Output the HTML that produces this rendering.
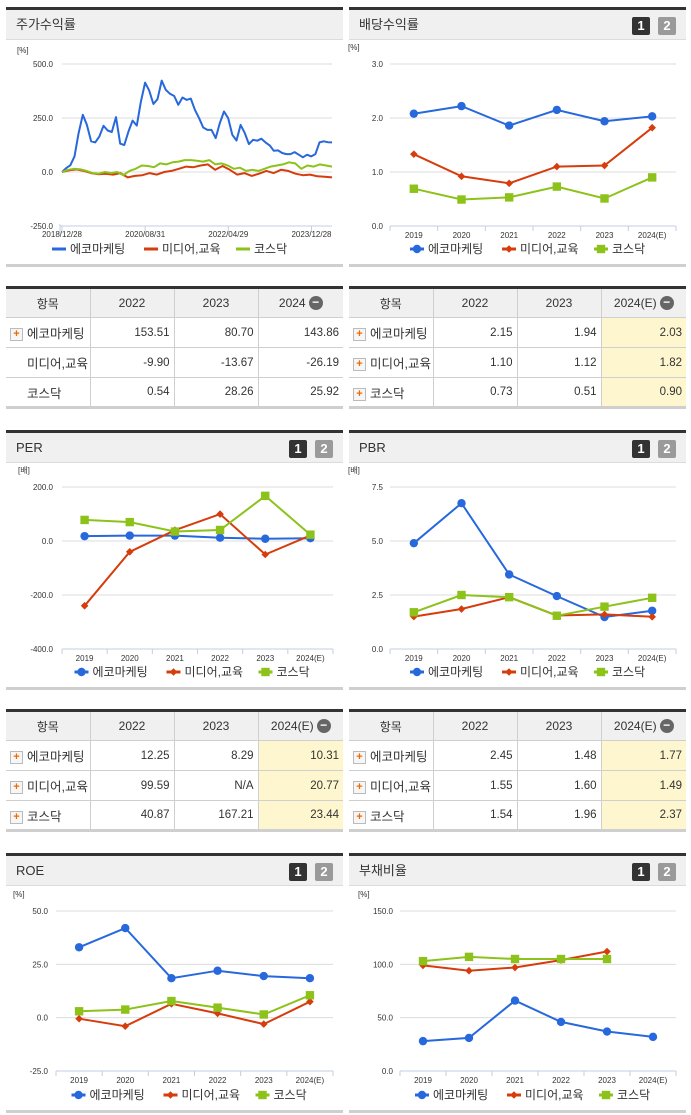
<!DOCTYPE html>
<html><head><meta charset="utf-8">
<style>
body{margin:0;width:691px;height:1115px;background:#fff;position:relative;overflow:hidden;font-family:"Liberation Sans","Noto Sans CJK KR",sans-serif;}
.abs{position:absolute}
.ptop{position:absolute;height:3px;background:#333}
.phead{position:absolute;height:30px;background:#f0f0f0;border-bottom:1px solid #dcdcdc;font-size:13px;color:#333;line-height:30px;padding-left:10px;box-sizing:border-box}
.pbot{position:absolute;height:3px;background:#cfcfcf}
.badge{position:absolute;top:7px;width:18px;height:18px;border-radius:2px;color:#fff;font-weight:bold;font-size:13px;line-height:18px;text-align:center}
.b1{right:36px;background:#333}.b2{right:10px;background:#9a9a9a}
table{position:absolute;border-collapse:collapse;table-layout:fixed;font-size:11.5px;color:#333;border-top:3px solid #333;border-bottom:3px solid #cfcfcf}
td,th{border:1px solid #cfcfcf;height:30px;padding:0 4px;box-sizing:border-box}
th{background:#f0f0f0;font-weight:normal;font-size:12px}
tr td:first-child{font-size:12.5px;white-space:nowrap}
tr td:first-child,tr th:first-child{border-left:none}
tr td:last-child,tr th:last-child{border-right:none}
td.n{text-align:right;color:#333}
td.hl{background:#fdf6cf}
.plus{display:inline-block;width:11px;height:11px;border:1px solid #bbb;background:#f6f6f6;color:#f06a00;font-size:11px;line-height:10px;text-align:center;font-weight:bold;vertical-align:middle;margin-right:4px}
.minus{display:inline-block;width:14px;height:14px;border-radius:50%;background:#666;color:#fff;font-size:12px;line-height:13px;text-align:center;vertical-align:middle;margin-left:3px;font-weight:bold}
</style></head>
<body>
<svg id="charts" width="691" height="1115" style="position:absolute;left:0;top:0"></svg>

<div class="ptop" style="left:6px;top:7px;width:337px"></div>
<div class="phead" style="left:6px;top:10px;width:337px">주가수익률</div>
<div class="pbot" style="left:6px;top:264px;width:337px"></div>

<div class="ptop" style="left:349px;top:7px;width:337px"></div>
<div class="phead" style="left:349px;top:10px;width:337px">배당수익률<span class="badge b1">1</span><span class="badge b2">2</span></div>
<div class="pbot" style="left:349px;top:264px;width:337px"></div>

<div class="ptop" style="left:6px;top:430px;width:337px"></div>
<div class="phead" style="left:6px;top:433px;width:337px">PER<span class="badge b1">1</span><span class="badge b2">2</span></div>
<div class="pbot" style="left:6px;top:687px;width:337px"></div>

<div class="ptop" style="left:349px;top:430px;width:337px"></div>
<div class="phead" style="left:349px;top:433px;width:337px">PBR<span class="badge b1">1</span><span class="badge b2">2</span></div>
<div class="pbot" style="left:349px;top:687px;width:337px"></div>

<div class="ptop" style="left:6px;top:853px;width:337px"></div>
<div class="phead" style="left:6px;top:856px;width:337px">ROE<span class="badge b1">1</span><span class="badge b2">2</span></div>
<div class="pbot" style="left:6px;top:1110px;width:337px"></div>

<div class="ptop" style="left:349px;top:853px;width:337px"></div>
<div class="phead" style="left:349px;top:856px;width:337px">부채비율<span class="badge b1">1</span><span class="badge b2">2</span></div>
<div class="pbot" style="left:349px;top:1110px;width:337px"></div>

<table style="left:6px;top:286px;width:337px">
<colgroup><col style="width:84px"><col style="width:84px"><col style="width:84px"><col style="width:85px"></colgroup>
<tr><th>항목</th><th>2022</th><th>2023</th><th>2024<span class="minus">−</span></th></tr>
<tr><td><span class="plus">+</span>에코마케팅</td><td class="n">153.51</td><td class="n">80.70</td><td class="n">143.86</td></tr>
<tr><td><span style="display:inline-block;width:17px"></span>미디어,교육</td><td class="n">-9.90</td><td class="n">-13.67</td><td class="n">-26.19</td></tr>
<tr><td><span style="display:inline-block;width:17px"></span>코스닥</td><td class="n">0.54</td><td class="n">28.26</td><td class="n">25.92</td></tr>
</table>

<table style="left:349px;top:286px;width:337px">
<colgroup><col style="width:84px"><col style="width:84px"><col style="width:84px"><col style="width:85px"></colgroup>
<tr><th>항목</th><th>2022</th><th>2023</th><th>2024(E)<span class="minus">−</span></th></tr>
<tr><td><span class="plus">+</span>에코마케팅</td><td class="n">2.15</td><td class="n">1.94</td><td class="n hl">2.03</td></tr>
<tr><td><span class="plus">+</span>미디어,교육</td><td class="n">1.10</td><td class="n">1.12</td><td class="n hl">1.82</td></tr>
<tr><td><span class="plus">+</span>코스닥</td><td class="n">0.73</td><td class="n">0.51</td><td class="n hl">0.90</td></tr>
</table>

<table style="left:6px;top:709px;width:337px">
<colgroup><col style="width:84px"><col style="width:84px"><col style="width:84px"><col style="width:85px"></colgroup>
<tr><th>항목</th><th>2022</th><th>2023</th><th>2024(E)<span class="minus">−</span></th></tr>
<tr><td><span class="plus">+</span>에코마케팅</td><td class="n">12.25</td><td class="n">8.29</td><td class="n hl">10.31</td></tr>
<tr><td><span class="plus">+</span>미디어,교육</td><td class="n">99.59</td><td class="n">N/A</td><td class="n hl">20.77</td></tr>
<tr><td><span class="plus">+</span>코스닥</td><td class="n">40.87</td><td class="n">167.21</td><td class="n hl">23.44</td></tr>
</table>

<table style="left:349px;top:709px;width:337px">
<colgroup><col style="width:84px"><col style="width:84px"><col style="width:84px"><col style="width:85px"></colgroup>
<tr><th>항목</th><th>2022</th><th>2023</th><th>2024(E)<span class="minus">−</span></th></tr>
<tr><td><span class="plus">+</span>에코마케팅</td><td class="n">2.45</td><td class="n">1.48</td><td class="n hl">1.77</td></tr>
<tr><td><span class="plus">+</span>미디어,교육</td><td class="n">1.55</td><td class="n">1.60</td><td class="n hl">1.49</td></tr>
<tr><td><span class="plus">+</span>코스닥</td><td class="n">1.54</td><td class="n">1.96</td><td class="n hl">2.37</td></tr>
</table>

<script>
const years = ["2019","2020","2021","2022","2023","2024(E)"];
const seriesNames = ["에코마케팅","미디어,교육","코스닥"];
const stockDateLabels = ["2018/12/28","2020/08/31","2022/04/29","2023/12/28"];
const stockTicks = [500,250,0,-250];
const stockEco = [0,18,31,72,180,265,218,142,137,165,214,192,185,254,131,125,188,238,215,326,414,377,315,337,423,380,362,352,311,345,334,340,288,249,206,195,195,157,226,280,249,172,146,218,180,129,149,145,154,137,123,98,100,88,83,83,92,80,68,80,72,83,137,142,138,137];
const stockMedia = [0,8,12,5,-5,-10,-8,-12,-5,-25,-18,-15,-5,-12,0,5,15,25,22,30,35,10,28,10,-12,-5,-18,-8,5,-5,10,5,-8,-15,-12,-20,-22,-25];
const stockKosdaq = [0,10,15,12,5,-5,-8,0,-5,0,-15,5,15,30,28,22,40,35,45,48,55,55,52,48,55,35,40,30,15,20,5,10,5,15,25,30,35,45,40,15,30,25,35,30,25];
const divTicks = [3,2,1,0];
const divEco = [2.08,2.22,1.86,2.15,1.94,2.03];
const divMedia = [1.33,0.92,0.79,1.10,1.12,1.82];
const divKosdaq = [0.69,0.49,0.53,0.73,0.51,0.90];
const perTicks = [200,0,-200,-400];
const perEco = [18,20,20,12.25,8.29,10.31];
const perMedia = [-240,-40,40,99.59,-50,20.77];
const perKosdaq = [78,70,35,40.87,167.21,23.44];
const pbrTicks = [7.5,5,2.5,0];
const pbrEco = [4.9,6.75,3.45,2.45,1.48,1.77];
const pbrMedia = [1.5,1.85,2.4,1.55,1.60,1.49];
const pbrKosdaq = [1.7,2.5,2.4,1.54,1.96,2.37];
const roeTicks = [50,25,0,-25];
const roeEco = [33,42,18.5,22,19.5,18.5];
const roeMedia = [-0.5,-4,6.5,2,-3,7.5];
const roeKosdaq = [3,3.8,7.8,4.7,1.5,10.5];
const debtTicks = [150,100,50,0];
const debtEco = [28,31,66,46,37,32];
const debtMedia = [99,94,97,104,112,null];
const debtKosdaq = [103,107,105,105,105,null];

const colors = ["#2768dc","#d63c0c","#8cc21a"];
const NS="http://www.w3.org/2000/svg";
const svg=document.getElementById('charts');
function el(tag,attrs,parent){const e=document.createElementNS(NS,tag);for(const k in attrs)e.setAttribute(k,attrs[k]);(parent||svg).appendChild(e);return e;}
function txt(x,y,s,size,anchor,parent){const t=el('text',{x:x,y:y,'font-size':size,'text-anchor':anchor||'start',fill:'#333','font-family':'"Liberation Sans","Noto Sans CJK KR",sans-serif'},parent);t.textContent=s;return t;}

function marker(g,i,x,y){
  let m;
  if(i===0){m=el('circle',{cx:x,cy:y,r:4.2,fill:colors[0]},g);}
  else if(i===1){m=el('path',{d:`M${x} ${y-3.8}L${x+3.8} ${y}L${x} ${y+3.8}L${x-3.8} ${y}Z`,fill:colors[1]},g);}
  else {m=el('rect',{x:x-4.2,y:y-4.2,width:8.4,height:8.4,fill:colors[2]},g);}
  return m;
}

function legend(cx,y,withMarkers,g){
  const widths=[92,92,62];const total=widths.reduce((a,b)=>a+b,0);
  let x=cx-total/2;
  seriesNames.forEach((n,i)=>{
    const lg=el('g',{},g);
    
    
    el('line',{x1:x,y1:y-4,x2:x+14,y2:y-4,stroke:colors[i],'stroke-width':3},lg);
    if(withMarkers)marker(lg,i,x+7,y-4);
    txt(x+18,y,n,12,'start',lg);
    x+=widths[i];
  });
}

function catChart(name,L,R,yTop,yBot,ticks,unit,labelRight,data,legendY){
  const g=el('g',{});
  
  
  const ymax=ticks[0],ymin=ticks[ticks.length-1];
  const Y=v=>yTop+(ymax-v)/(ymax-ymin)*(yBot-yTop);
  const bw=(R-L)/years.length;
  const X=i=>L+bw*(i+0.5);
  txt(labelRight-35,yTop-14,unit,8,'start',g);
  ticks.forEach(t=>{
    if(t!==ymin)el('line',{x1:L,y1:Y(t),x2:R,y2:Y(t),stroke:'#dcdcdc','stroke-width':1},g);
    txt(labelRight,Y(t)+3,t.toFixed(1),8,'end',g);
  });
  el('line',{x1:L,y1:yBot,x2:R,y2:yBot,stroke:'#c5cde0','stroke-width':1},g);
  for(let i=0;i<=years.length;i++)el('line',{x1:L+bw*i,y1:yBot,x2:L+bw*i,y2:yBot+5,stroke:'#c5cde0'},g);
  years.forEach((yr,i)=>txt(X(i),yBot+12,yr,8,'middle',g));
  data.forEach((arr,si)=>{
    const sg=el('g',{},g);
    
    
    let d='';let pen=false;
    arr.forEach((v,i)=>{if(v===null){pen=false;return;}d+=(pen?'L':'M')+X(i).toFixed(1)+' '+Y(v).toFixed(1);pen=true;});
    el('path',{d:d,fill:'none',stroke:colors[si],'stroke-width':2},sg);
    arr.forEach((v,i)=>{if(v===null)return;const m=marker(sg,si,X(i),Y(v));
      
      });
  });
  legend((L+R)/2,legendY,true,g);
}

(function(){
  const g=el('g',{});
  
  
  const L=62,R=332,yTop=64,yBot=226;
  const ymax=stockTicks[0],ymin=stockTicks[stockTicks.length-1];
  const Y=v=>yTop+(ymax-v)/(ymax-ymin)*(yBot-yTop);
  txt(17,53,'[%]',8,'start',g);
  stockTicks.forEach(t=>{
    if(t!==ymin)el('line',{x1:L,y1:Y(t),x2:R,y2:Y(t),stroke:'#dcdcdc'},g);
    txt(53,Y(t)+3,t.toFixed(1),8,'end',g);
  });
  el('line',{x1:L-2,y1:yBot,x2:R,y2:yBot,stroke:'#c5cde0'},g);
  el('line',{x1:L-2,y1:yBot-2,x2:L-2,y2:yBot+8,stroke:'#c5cde0'},g);
  const span=R-L;
  stockDateLabels.forEach((s,i)=>{
    const x=L+span*i/3*0.924;
    el('line',{x1:x,y1:yBot,x2:x,y2:yBot+6,stroke:'#c5cde0'},g);
    txt(x,yBot+11,s,8,'middle',g);
  });
  [stockEco,stockMedia,stockKosdaq].forEach((arr,si)=>{
    const n=arr.length;
    const d=arr.map((v,i)=>(i?'L':'M')+(L+span*i/(n-1)).toFixed(1)+' '+Y(v).toFixed(1)).join('');
    const p=el('path',{d:d,fill:'none',stroke:colors[si],'stroke-width':2,'stroke-linejoin':'round'},g);
    
    
  });
  legend(175,253,false,g);
})();

catChart('dividend-chart',390,676,64,226,divTicks,'[%]',383,[divEco,divMedia,divKosdaq],253);
catChart('per-chart',62,333,487,649,perTicks,'[배]',53,[perEco,perMedia,perKosdaq],676);
catChart('pbr-chart',390,676,487,649,pbrTicks,'[배]',383,[pbrEco,pbrMedia,pbrKosdaq],676);
catChart('roe-chart',56,333,911,1071,roeTicks,'[%]',48,[roeEco,roeMedia,roeKosdaq],1099);
catChart('debt-ratio-chart',400,676,911,1071,debtTicks,'[%]',393,[debtEco,debtMedia,debtKosdaq],1099);
</script>
</body></html>
